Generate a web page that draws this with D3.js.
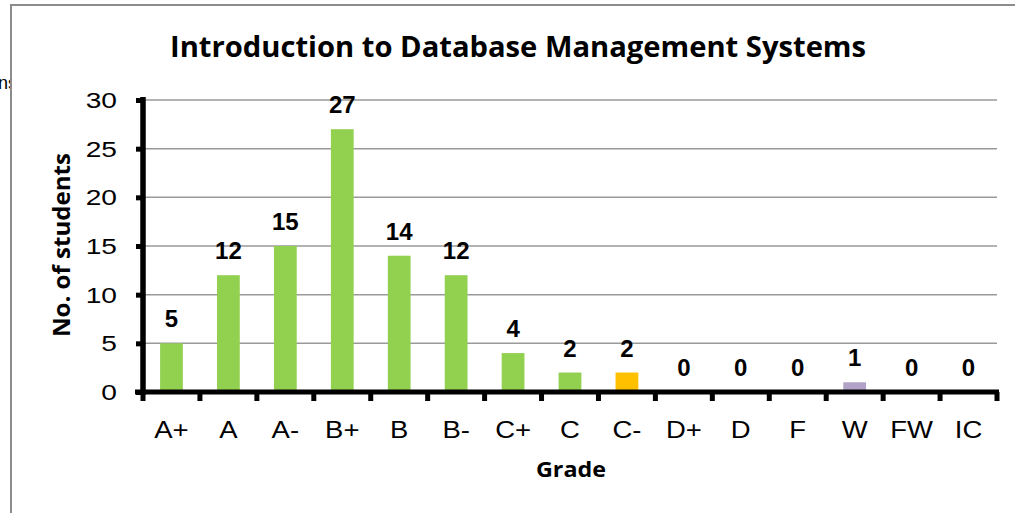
<!DOCTYPE html>
<html>
<head>
<meta charset="utf-8">
<script src="https://cdn.jsdelivr.net/npm/d3@7"></script>
<style>
  html, body { margin: 0; padding: 0; background: #fff; }
  svg { display: block; }
</style>
</head>
<body>
<div id="chart"></div>
<script>
// Grade distribution data
const grades = ['A+', 'A', 'A-', 'B+', 'B', 'B-', 'C+', 'C', 'C-', 'D+', 'D', 'F', 'W', 'FW', 'IC'];
const students = [5, 12, 15, 27, 14, 12, 4, 2, 2, 0, 0, 0, 1, 0, 0];
const barColors = ['#92D050', '#92D050', '#92D050', '#92D050', '#92D050', '#92D050', '#92D050', '#92D050',
  '#FFC000', '#92D050', '#92D050', '#92D050', '#B3A2C7', '#92D050', '#92D050'];
const yTicks = [0, 5, 10, 15, 20, 25, 30];

const width = 1015, height = 513;
const margin = { left: 143, right: 18, top: 100, bottom: 121 };
const arial = 'Arial, "Liberation Sans", sans-serif';
const calibri = '"Open Sans", sans-serif';

const svg = d3.select('#chart').append('svg')
  .attr('width', width)
  .attr('height', height);

// stray text from the sheet behind the chart box
svg.append('text')
  .attr('x', -2).attr('y', 89)
  .attr('font-family', arial)
  .attr('font-size', 18)
  .text('ns');

// chart box
svg.append('rect')
  .attr('x', 11).attr('y', 5)
  .attr('width', 1020).attr('height', 520)
  .attr('fill', '#fff')
  .attr('stroke', '#8c8c8c')
  .attr('stroke-width', 2);

const x = d3.scaleBand()
  .domain(grades)
  .range([margin.left, width - margin.right])
  .paddingInner(0.6)
  .paddingOuter(0.3);

const y = d3.scaleLinear()
  .domain([0, 30])
  .range([height - margin.bottom, margin.top]);

// gridlines
svg.append('g')
  .selectAll('line')
  .data(yTicks.filter(d => d > 0))
  .join('line')
  .attr('x1', margin.left)
  .attr('x2', width - margin.right)
  .attr('y1', d => y(d))
  .attr('y2', d => y(d))
  .attr('stroke', '#9a9a9a')
  .attr('stroke-width', 1.5);

// bars
svg.append('g')
  .selectAll('rect')
  .data(students)
  .join('rect')
  .attr('x', (d, i) => x(grades[i]))
  .attr('y', d => y(d))
  .attr('width', x.bandwidth())
  .attr('height', d => y(0) - y(d))
  .attr('fill', (d, i) => barColors[i]);

// value labels
svg.append('g')
  .selectAll('text')
  .data(students)
  .join('text')
  .attr('x', (d, i) => x(grades[i]) + x.bandwidth() / 2)
  .attr('y', d => y(d) - 16)
  .attr('text-anchor', 'middle')
  .attr('font-family', arial)
  .attr('font-weight', 'bold')
  .attr('font-size', 24)
  .text(d => d);

// y axis
const yAxis = d3.axisLeft(y).tickValues(yTicks).tickSize(7).tickFormat('');
const gy = svg.append('g')
  .attr('transform', `translate(${margin.left},0)`)
  .call(yAxis);
gy.select('.domain').remove();
gy.selectAll('.tick line').attr('stroke', '#000').attr('stroke-width', 5);
svg.append('g')
  .selectAll('text')
  .data(yTicks)
  .join('text')
  .attr('transform', d => `translate(117,${y(d) + 8}) scale(1.25,1)`)
  .attr('text-anchor', 'end')
  .attr('font-family', arial)
  .attr('font-size', 22.5)
  .text(d => d);
svg.append('line')
  .attr('x1', margin.left).attr('x2', margin.left)
  .attr('y1', y(30) - 3).attr('y2', y(0) + 3)
  .attr('stroke', '#000').attr('stroke-width', 5.5);

// x axis: ticks at category boundaries
const step = (width - margin.right - margin.left) / grades.length;
svg.append('g')
  .selectAll('line')
  .data(d3.range(grades.length + 1))
  .join('line')
  .attr('x1', i => margin.left + i * step)
  .attr('x2', i => margin.left + i * step)
  .attr('y1', y(0))
  .attr('y2', y(0) + 9)
  .attr('stroke', '#000')
  .attr('stroke-width', 5);
svg.append('line')
  .attr('x1', margin.left - 8).attr('x2', width - margin.right + 2)
  .attr('y1', y(0)).attr('y2', y(0))
  .attr('stroke', '#000').attr('stroke-width', 5);

svg.append('g')
  .selectAll('text')
  .data(grades)
  .join('text')
  .attr('transform', d => `translate(${x(d) + x.bandwidth() / 2},${y(0) + 46}) scale(1.17,1)`)
  .attr('text-anchor', 'middle')
  .attr('font-family', arial)
  .attr('font-size', 23.5)
  .text(d => d);

// title
svg.append('text')
  .attr('x', 518).attr('y', 57)
  .attr('text-anchor', 'middle')
  .attr('font-family', calibri)
  .attr('font-weight', 'bold')
  .attr('font-size', 28)
  .attr('textLength', 696)
  .attr('lengthAdjust', 'spacingAndGlyphs')
  .text('Introduction to Database Management Systems');

// axis titles
svg.append('text')
  .attr('transform', 'translate(70,245) rotate(-90)')
  .attr('text-anchor', 'middle')
  .attr('font-family', calibri)
  .attr('font-weight', 'bold')
  .attr('font-size', 23.5)
  .attr('textLength', 184)
  .attr('lengthAdjust', 'spacingAndGlyphs')
  .text('No. of students');

svg.append('text')
  .attr('x', 571).attr('y', 477)
  .attr('text-anchor', 'middle')
  .attr('font-family', calibri)
  .attr('font-weight', 'bold')
  .attr('font-size', 21)
  .attr('textLength', 70)
  .attr('lengthAdjust', 'spacingAndGlyphs')
  .text('Grade');
</script>
</body>
</html>
